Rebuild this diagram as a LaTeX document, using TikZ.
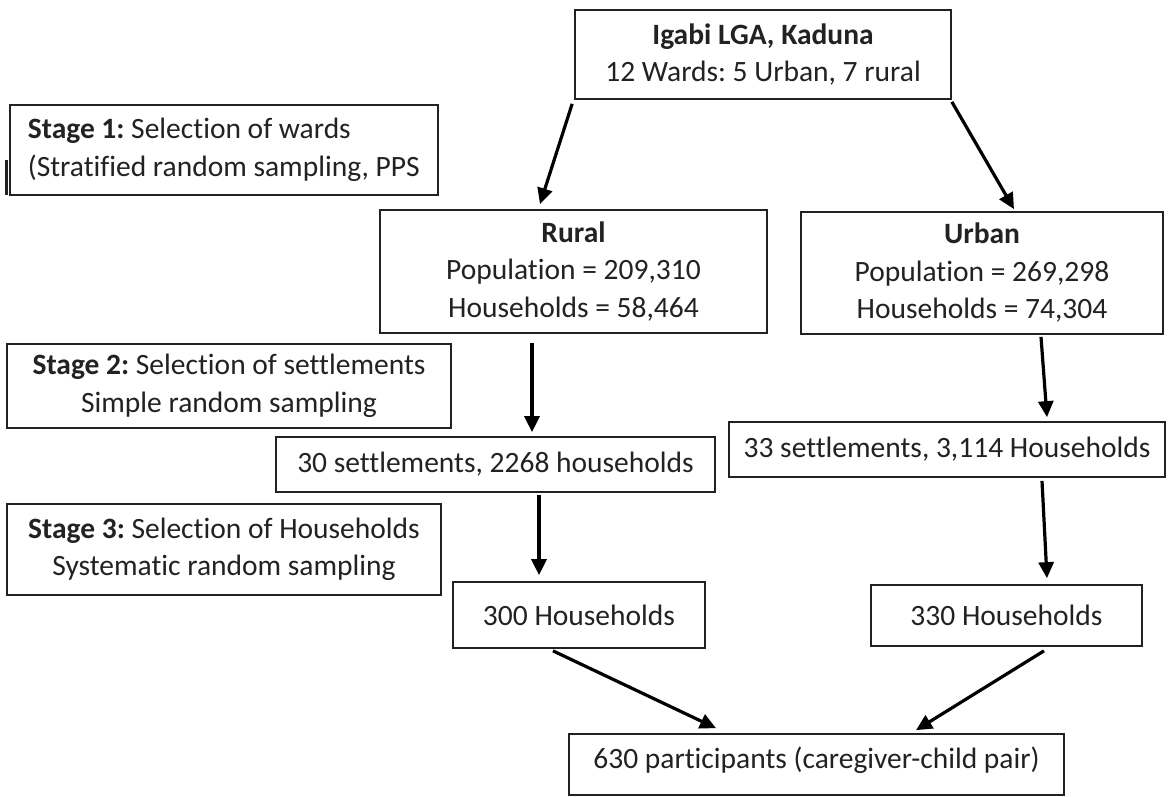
\documentclass[tikz,border=0pt]{standalone}
\usepackage{fontspec}
\setmainfont{Carlito}[Ligatures=NoCommon]
\usetikzlibrary{calc,arrows.meta}
\definecolor{ink}{HTML}{222222}
\tikzset{
  box/.style={draw=ink, line width=1.7pt, text=ink, inner sep=0pt, align=center,
    font=\fontsize{29.5}{37.5}\selectfont\frenchspacing},
  arr/.style={draw=black, line width=3.2pt, -{Triangle[length=16pt,width=15pt]}}
}
\begin{document}
\begin{tikzpicture}[x=1pt,y=-1pt]
\useasboundingbox[fill=white] (0,0) rectangle (1168,796);
\node[box, minimum width=376pt, minimum height=89pt] (top) at (763,54.5)
  {\textbf{Igabi LGA, Kaduna}\\12 Wards: 5 Urban, 7 rural};
\node[box, align=left, anchor=west, inner xsep=18pt, minimum height=90pt] (s1) at (9,150)
  {\textbf{Stage 1:} Selection of wards\\(Stratified random sampling, PPS};
\node[box, minimum width=387pt, minimum height=123pt] (rural) at (573.5,271.5)
  {\textbf{Rural}\\Population = 209,310\\Households = 58,464};
\node[box, minimum width=362pt, minimum height=122pt] (urban) at (982,273)
  {\textbf{Urban}\\Population = 269,298\\Households = 74,304};
\node[box, minimum width=444pt, minimum height=84pt] (s2) at (229,386)
  {\textbf{Stage 2:} Selection of settlements\\Simple random sampling};
\node[box, minimum width=439pt, minimum height=55pt] (set30) at (495.5,464.5)
  {30 settlements, 2268 households};
\node[box, minimum width=436pt, minimum height=55pt] (set33) at (947,449.5)
  {33 settlements, 3,114 Households};
\node[box, minimum width=434pt, minimum height=91pt] (s3) at (224,549.5)
  {\textbf{Stage 3:} Selection of Households\\Systematic random sampling};
\node[box, minimum width=252pt, minimum height=66pt] (h300) at (579,615)
  {300 Households};
\node[box, minimum width=271pt, minimum height=61pt] (h330) at (1006.5,615.5)
  {330 Households};
\node[box, anchor=base, text height=34pt, text depth=27pt, minimum width=495pt] (p630) at (816.5,768)
  {630 participants (caregiver-child pair)};
% stray mark at left edge of stage 1 box
\draw[line width=3pt, ink] ($(s1.south west)+(-3,-1)$) -- ($(s1.south west)+(-3,-36)$);
% connectors
\draw[arr] ($(top.south west)+(-2,4)$) -- ($(rural.north)+(-33.5,-5)$);
\draw[arr] ($(top.south east)+(0,2)$) -- ($(urban.north)+(32,-2)$);
\draw[arr] ($(rural.south)+(-41.5,9)$) -- ($(set30.north)+(36.5,-4)$);
\draw[arr] ($(urban.south)+(59,2)$) -- ($(set33.north)+(100,-4)$);
\draw[arr] ($(set30.south)+(43.5,2)$) -- ($(h300.north)+(-40,-6)$);
\draw[arr] ($(set33.south)+(95,3)$) -- ($(h330.north)+(40.5,-6)$);
\draw[arr] ($(h300.south)+(-26,2)$) -- ($(p630.north)+(-100.5,-5)$);
\draw[arr] ($(h330.south)+(37.5,4)$) -- ($(p630.north)+(99.5,-3)$);
\end{tikzpicture}
\end{document}
